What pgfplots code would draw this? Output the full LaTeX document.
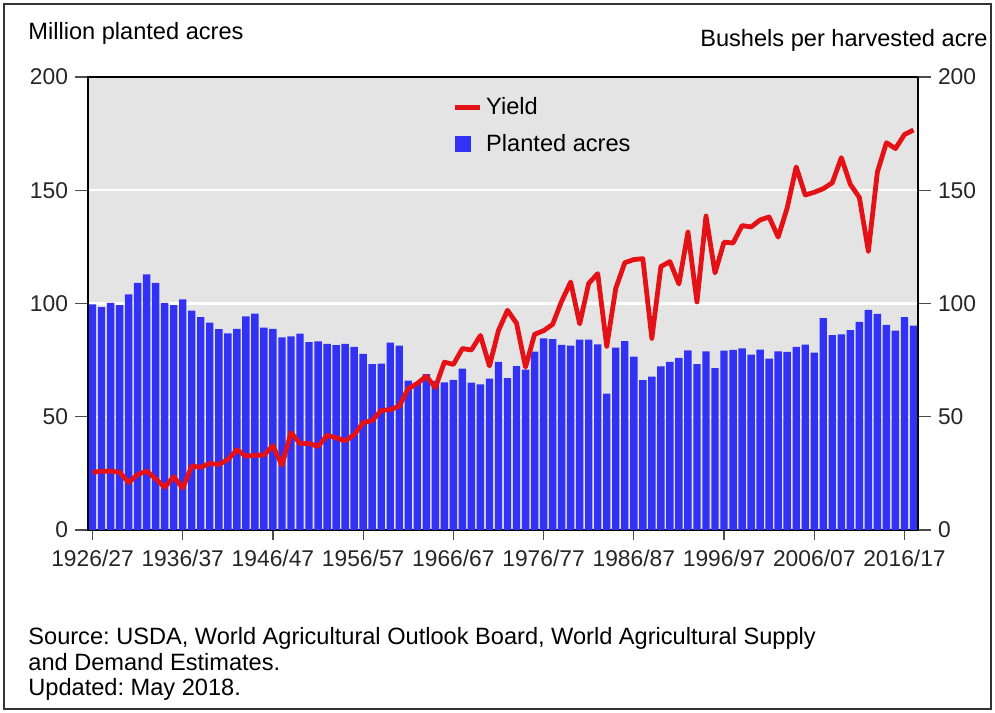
\documentclass[border=0pt]{standalone}
\usepackage{fontspec}
\setmainfont{Liberation Sans}
\usepackage{pgfplots}
\usepackage{pgfplotstable}
\pgfplotsset{compat=1.18}
\frenchspacing

\definecolor{barblue}{RGB}{50,50,245}
\definecolor{yieldred}{RGB}{228,18,22}
\definecolor{plotbg}{RGB}{228,228,228}
\newcommand{\tickfont}{\fontsize{11.4bp}{13.5bp}\selectfont}
\newcommand{\labelfont}{\fontsize{11.8bp}{14bp}\selectfont}

% k = position on the x axis, year = first year of the marketing year
\pgfplotstableread{
k year acres yield
0 1926 99.6 25.5
1 1927 98.4 25.9
2 1928 100.3 26.0
3 1929 99.3 25.5
4 1930 104.0 21.0
5 1931 109.1 24.5
6 1932 112.9 26.0
7 1933 109.1 22.6
8 1934 100.3 18.9
9 1935 99.3 23.5
10 1936 101.8 18.5
11 1937 96.8 28.2
12 1938 94.0 27.7
13 1939 91.6 29.4
14 1940 88.7 28.9
15 1941 86.8 31.1
16 1942 88.8 35.4
17 1943 94.3 32.6
18 1944 95.5 33.0
19 1945 89.3 33.1
20 1946 88.8 37.2
21 1947 85.0 28.6
22 1948 85.5 43.0
23 1949 86.7 38.2
24 1950 82.9 38.2
25 1951 83.3 36.9
26 1952 82.2 41.8
27 1953 81.6 40.7
28 1954 82.2 39.4
29 1955 80.9 42.0
30 1956 77.8 47.4
31 1957 73.2 48.3
32 1958 73.4 52.8
33 1959 82.7 53.1
34 1960 81.4 54.7
35 1961 65.9 62.4
36 1962 65.0 64.7
37 1963 68.8 67.9
38 1964 65.8 62.9
39 1965 65.2 74.1
40 1966 66.3 73.1
41 1967 71.2 80.1
42 1968 65.1 79.5
43 1969 64.3 85.9
44 1970 66.8 72.4
45 1971 74.2 88.1
46 1972 67.1 97.0
47 1973 72.3 91.3
48 1974 70.8 71.9
49 1975 78.7 86.4
50 1976 84.6 88.0
51 1977 84.3 90.8
52 1978 81.7 101.0
53 1979 81.4 109.5
54 1980 84.0 91.0
55 1981 84.1 108.9
56 1982 81.9 113.2
57 1983 60.2 81.1
58 1984 80.5 106.7
59 1985 83.4 118.0
60 1986 76.6 119.4
61 1987 66.2 119.8
62 1988 67.7 84.6
63 1989 72.2 116.3
64 1990 74.2 118.5
65 1991 76.0 108.6
66 1992 79.3 131.5
67 1993 73.2 100.7
68 1994 78.9 138.6
69 1995 71.5 113.5
70 1996 79.2 127.1
71 1997 79.5 126.7
72 1998 80.2 134.4
73 1999 77.4 133.8
74 2000 79.6 136.9
75 2001 75.7 138.2
76 2002 78.9 129.3
77 2003 78.6 142.2
78 2004 80.9 160.3
79 2005 81.8 147.9
80 2006 78.3 149.1
81 2007 93.5 150.7
82 2008 86.0 153.3
83 2009 86.4 164.4
84 2010 88.2 152.6
85 2011 91.9 146.8
86 2012 97.2 123.1
87 2013 95.4 158.1
88 2014 90.6 171.0
89 2015 88.0 168.4
90 2016 94.0 174.6
91 2017 90.2 176.6
}\corndata

\begin{document}
\begin{tikzpicture}
\useasboundingbox (-44bp,-91.5bp) rectangle (453.5bp,265bp);
\fill[white] (-44bp,-91.5bp) rectangle (453.5bp,265bp);
\draw[black!80, line width=1.2bp] (-42bp,-89.5bp) rectangle (451.5bp,263bp);

% bars, left axis
\begin{axis}[
    at={(0,0)}, anchor=south west,
    scale only axis, width=415bp, height=226.5bp,
    xmin=-0.5, xmax=91.5, ymin=0, ymax=200,
    axis background/.style={fill=plotbg},
    axis line style={black, line width=0.7bp},
    ymajorgrids,
    major grid style={white, line width=1.2bp},
    tick align=outside,
    ytick pos=left, xtick pos=bottom,
    ytick={0,50,...,200},
    xtick={0,10,...,90},
    xticklabels={1926/27,1936/37,1946/47,1956/57,1966/67,1976/77,1986/87,1996/97,2006/07,2016/17},
    major tick length=6.5bp,
    xtick style={/pgfplots/major tick length=5bp},
    tick style={black!70, line width=0.6bp},
    ticklabel style={font=\tickfont, text=black!85},
    /pgf/number format/assume math mode=true,
]
\addplot[ybar, bar width=0.82, bar shift=0pt, fill=barblue, draw=none]
    table[x=k, y=acres] {\corndata};
\end{axis}

% yield line, right axis
\begin{axis}[
    at={(0,0)}, anchor=south west,
    scale only axis, width=415bp, height=226.5bp,
    xmin=-0.5, xmax=91.5, ymin=0, ymax=200,
    axis x line=none, axis y line*=right,
    axis line style={black, line width=0.7bp},
    tick align=outside,
    ytick={0,50,...,200},
    major tick length=6.5bp,
    tick style={black!70, line width=0.6bp},
    ticklabel style={font=\tickfont, text=black!85},
    /pgf/number format/assume math mode=true,
    legend style={at={(0.4386,0.965)}, anchor=north west, draw=none, fill=none,
        inner sep=0pt, font=\labelfont, row sep=4.5bp, cells={anchor=west}},
    legend image code/.code={\draw[#1] (0bp,0bp) -- (12.5bp,0bp);},
]
\addplot[yieldred, line width=2.4bp, line join=round]
    table[x=k, y=yield] {\corndata};
\addlegendentry{Yield}
\addlegendimage{draw=none, legend image code/.code={
    \path[draw=none, fill=none] (0bp,-4bp) rectangle (12.5bp,4bp);
    \fill[barblue, draw=none] (0bp,-4bp) rectangle (8bp,4bp);}}
\addlegendentry{Planted acres}
\end{axis}

\node[anchor=base west, inner sep=0pt, font=\labelfont] at (-30bp,245bp) {Million planted acres};
\node[anchor=base east, inner sep=0pt, font=\labelfont] at (450bp,241.5bp) {Bushels per harvested acre};

\node[anchor=base west, inner sep=0pt, font=\labelfont] at (-30bp,-57bp)
    {Source: USDA, World Agricultural Outlook Board, World Agricultural Supply};
\node[anchor=base west, inner sep=0pt, font=\labelfont] at (-30bp,-70bp) {and Demand Estimates.};
\node[anchor=base west, inner sep=0pt, font=\labelfont] at (-30bp,-82.5bp) {Updated: May 2018.};
\end{tikzpicture}
\end{document}
